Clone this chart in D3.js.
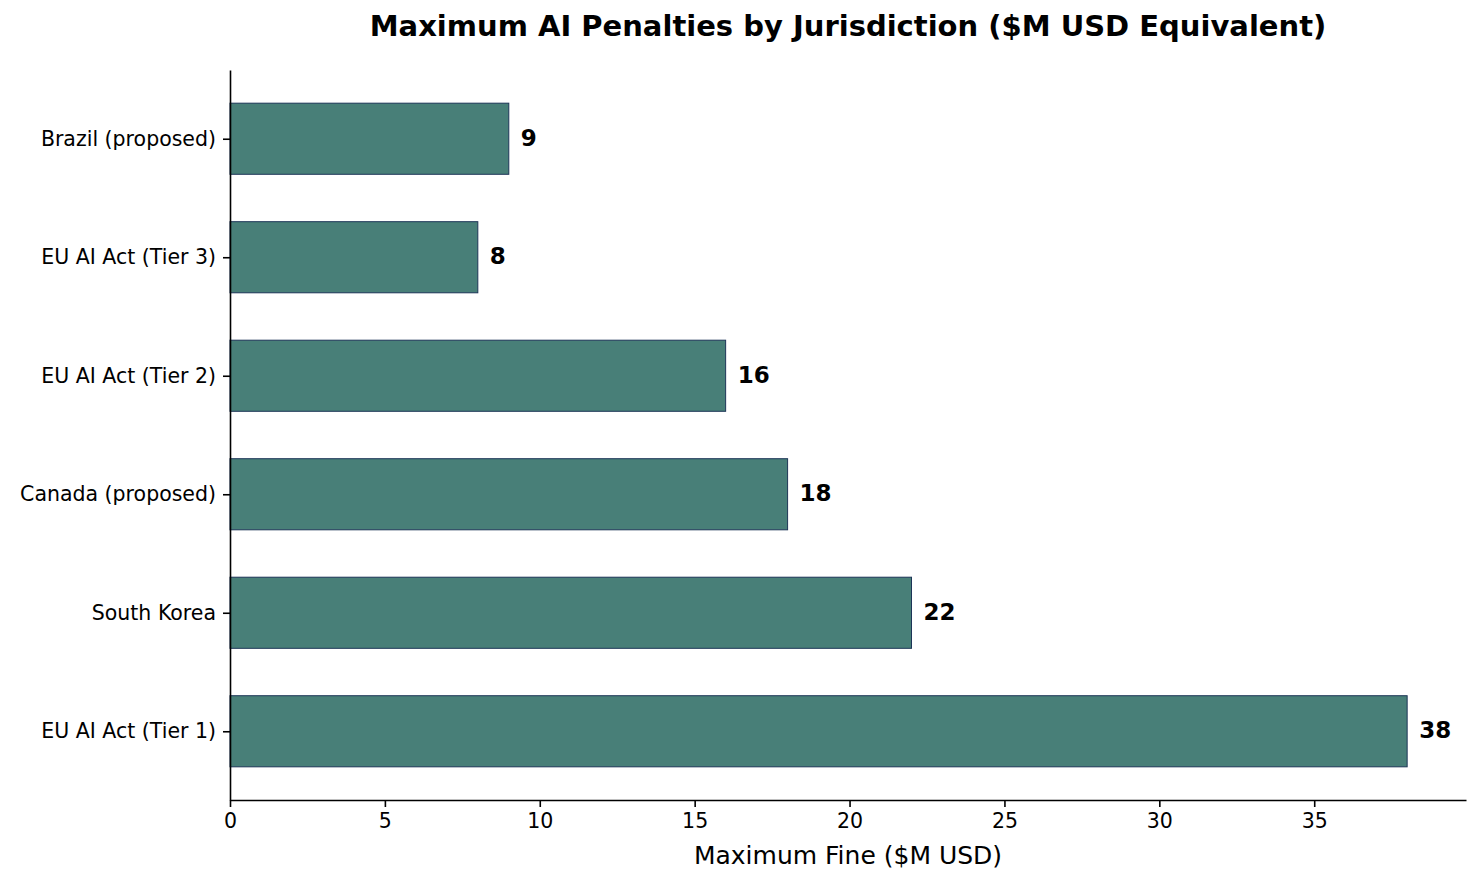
<!DOCTYPE html>
<html>
<head>
<meta charset="utf-8">
<script src="https://cdn.jsdelivr.net/npm/d3@7"></script>
<style>
  body { margin: 0; background: #fff; }
  text { font-family: "DejaVu Sans", sans-serif; }
</style>
</head>
<body>
<div id="chart"></div>
<script>
// chart data (bottom to top, as drawn)
var jurisdictions = ['EU AI Act (Tier 1)', 'South Korea', 'Canada (proposed)', 'EU AI Act (Tier 2)', 'EU AI Act (Tier 3)', 'Brazil (proposed)']
var maxFines = [38, 22, 18, 16, 8, 9]
var xTicks = [0, 5, 10, 15, 20, 25, 30, 35]

var W = 1482, H = 884
var m = {left: 230, right: 16, top: 70, bottom: 84}

var svg = d3.select('#chart').append('svg')
  .attr('width', W).attr('height', H)

var x = d3.scaleLinear().domain([0, 38 * 1.05]).range([m.left, W - m.right])
// bar centers at integer index, 0.6 bar height, 5% padding like matplotlib
var y = d3.scaleLinear().domain([-0.58, jurisdictions.length - 1 + 0.58]).range([H - m.bottom, m.top])

var data = jurisdictions.map(function(d, i) { return {name: d, value: maxFines[i], i: i} })

svg.selectAll('.bar')
  .data(data)
  .enter()
  .append('rect')
    .attr('class', 'bar')
    .attr('x', x(0))
    .attr('y', function(d) { return y(d.i + 0.3) })
    .attr('width', function(d) { return x(d.value) - x(0) })
    .attr('height', function(d) { return y(d.i - 0.3) - y(d.i + 0.3) })
    .attr('fill', '#487f78')
    .attr('stroke', '#1d3557')
    .attr('stroke-width', 1)

svg.selectAll('.val')
  .data(data)
  .enter()
  .append('text')
    .attr('class', 'val')
    .attr('x', function(d) { return x(d.value) + 12 })
    .attr('y', function(d) { return y(d.i) })
    .attr('dy', '0.3em')
    .style('font-size', '23px')
    .style('font-weight', 'bold')
    .text(function(d) { return d.value })

// axes
var xAxis = d3.axisBottom(x).tickValues(xTicks).tickSizeInner(7).tickSizeOuter(0).tickPadding(6)
var gx = svg.append('g')
  .attr('transform', 'translate(0,' + (H - m.bottom) + ')')
  .call(xAxis)
gx.select('.domain').attr('stroke-width', 1.6)
gx.selectAll('.tick line').attr('stroke-width', 1.6)
gx.selectAll('text').style('font-size', '20.5px').attr('fill', '#000')

var yAxis = d3.axisLeft(y).tickValues(d3.range(jurisdictions.length))
  .tickFormat(function(i) { return jurisdictions[i] })
  .tickSizeInner(7).tickSizeOuter(0).tickPadding(7)
var gy = svg.append('g')
  .attr('transform', 'translate(' + m.left + ',0)')
  .call(yAxis)
gy.select('.domain').attr('stroke-width', 1.6)
gy.selectAll('.tick line').attr('stroke-width', 1.6)
gy.selectAll('text').style('font-size', '20.5px').attr('fill', '#000')

svg.append('text')
  .attr('x', (m.left + W - m.right) / 2)
  .attr('y', 864)
  .attr('text-anchor', 'middle')
  .style('font-size', '25px')
  .text('Maximum Fine ($M USD)')

svg.append('text')
  .attr('x', (m.left + W - m.right) / 2)
  .attr('y', 36)
  .attr('text-anchor', 'middle')
  .style('font-size', '29px')
  .style('font-weight', 'bold')
  .text('Maximum AI Penalties by Jurisdiction ($M USD Equivalent)')
</script>
</body>
</html>
